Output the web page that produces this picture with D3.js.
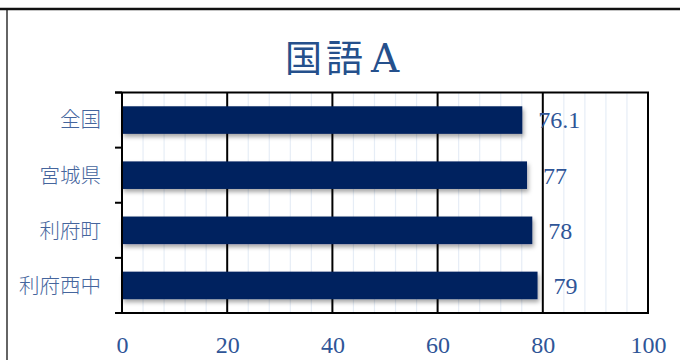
<!DOCTYPE html>
<html>
<head>
<meta charset="utf-8">
<script src="https://cdn.jsdelivr.net/npm/d3@7"></script>
<style>
  body { margin: 0; background: #fff; }
  svg { display: block; }
</style>
</head>
<body>
<div id="chart"></div>
<script>
// chart data
const categories = ['全国', '宮城県', '利府町', '利府西中'];
const values = [76.1, 77, 78, 79];
const valueLabels = ['76.1', '77', '78', '79'];
const xTicks = [0, 20, 40, 60, 80, 100];
const minorStep = 4;
const titleMain = '国語';
const titleSuffix = 'A';

const width = 680, height = 360;
const plot = { left: 122, right: 648, top: 92.5, bottom: 313 };

const svg = d3.select('#chart')
    .append('svg')
    .attr('width', width)
    .attr('height', height);

// soft shadow under bars
const defs = svg.append('defs');
const f = defs.append('filter')
    .attr('id', 'shadow')
    .attr('x', '-5%').attr('y', '-30%')
    .attr('width', '115%').attr('height', '180%');
f.append('feDropShadow')
    .attr('dx', 1.5).attr('dy', 3)
    .attr('stdDeviation', 2.2)
    .attr('flood-color', '#000')
    .attr('flood-opacity', 0.35);

// outer frame
svg.append('line')
    .attr('x1', 0).attr('x2', width)
    .attr('y1', 9).attr('y2', 9)
    .attr('stroke', '#111').attr('stroke-width', 2.5);
svg.append('line')
    .attr('x1', 7).attr('x2', 7)
    .attr('y1', 10).attr('y2', height)
    .attr('stroke', '#111').attr('stroke-width', 1.3);

// title
const t = svg.append('text')
    .attr('x', 285)
    .attr('y', 72)
    .style('fill', '#25508c');
t.append('tspan')
    .style('font-family', '"Noto Sans CJK JP", sans-serif')
    .style('font-size', '37px')
    .style('letter-spacing', '4px')
    .text(titleMain);
t.append('tspan')
    .attr('dx', 4)
    .style('font-family', '"DejaVu Serif", serif')
    .style('font-size', '39px')
    .text(titleSuffix);

// scales
const x = d3.scaleLinear()
    .domain([0, 100])
    .range([plot.left, plot.right]);

const y = d3.scaleBand()
    .domain(categories)
    .range([plot.top, plot.bottom])
    .paddingInner(0.5)
    .paddingOuter(0.25);

// minor gridlines
const minor = d3.range(0, 101, minorStep).filter(d => !xTicks.includes(d));
svg.append('g')
    .selectAll('line')
    .data(minor)
    .enter()
    .append('line')
    .attr('x1', d => x(d)).attr('x2', d => x(d))
    .attr('y1', plot.top).attr('y2', plot.bottom)
    .attr('stroke', '#e6edf6')
    .attr('stroke-width', 1.2);

// major gridlines
svg.append('g')
    .selectAll('line')
    .data(xTicks.filter(d => d > 0 && d < 100))
    .enter()
    .append('line')
    .attr('x1', d => x(d)).attr('x2', d => x(d))
    .attr('y1', plot.top).attr('y2', plot.bottom)
    .attr('stroke', '#000')
    .attr('stroke-width', 2);

// bars
svg.append('g')
    .selectAll('rect')
    .data(values)
    .enter()
    .append('rect')
    .attr('x', x(0))
    .attr('y', (d, i) => y(categories[i]))
    .attr('width', d => x(d) - x(0))
    .attr('height', y.bandwidth())
    .attr('fill', '#00205f')
    .attr('filter', 'url(#shadow)');

// plot frame (top, right, bottom)
svg.append('path')
    .attr('d', `M${plot.left - 7},${plot.top}H${plot.right}V${plot.bottom}H${plot.left - 7}`)
    .attr('fill', 'none')
    .attr('stroke', '#000')
    .attr('stroke-width', 2);

// y axis with ticks on band boundaries
const yAxis = svg.append('g');
yAxis.append('line')
    .attr('x1', plot.left).attr('x2', plot.left)
    .attr('y1', plot.top).attr('y2', plot.bottom)
    .attr('stroke', '#000').attr('stroke-width', 2);
const bounds = [plot.top].concat(categories.map(c => y(c) + y.bandwidth() + y.step() * 0.25));
yAxis.selectAll('.tk')
    .data(bounds)
    .enter()
    .append('line')
    .attr('x1', plot.left - 7).attr('x2', plot.left)
    .attr('y1', d => d).attr('y2', d => d)
    .attr('stroke', '#000').attr('stroke-width', 2);

yAxis.selectAll('text')
    .data(categories)
    .enter()
    .append('text')
    .attr('x', 101)
    .attr('y', d => y(d) + y.bandwidth() / 2)
    .attr('dy', '0.36em')
    .attr('text-anchor', 'end')
    .style('font-family', '"Noto Sans CJK JP", sans-serif')
    .style('font-size', '20.5px')
    .style('font-weight', 300)
    .style('fill', '#45659d')
    .text(d => d);

// x axis labels
svg.append('g')
    .attr('transform', `translate(0,${plot.bottom})`)
    .call(d3.axisBottom(x).tickValues(xTicks).tickSize(0).tickPadding(23))
    .call(g => g.select('.domain').remove())
    .selectAll('text')
    .style('font-family', '"Liberation Serif", serif')
    .style('font-size', '24px')
    .style('fill', '#2f5597');

// value labels
svg.append('g')
    .selectAll('text')
    .data(values)
    .enter()
    .append('text')
    .attr('x', d => x(d) + 16)
    .attr('y', (d, i) => y(categories[i]) + y.bandwidth() / 2)
    .attr('dy', '0.35em')
    .style('font-family', '"Liberation Serif", serif')
    .style('font-size', '24px')
    .style('fill', '#2f5597')
    .text((d, i) => valueLabels[i]);
</script>
</body>
</html>
